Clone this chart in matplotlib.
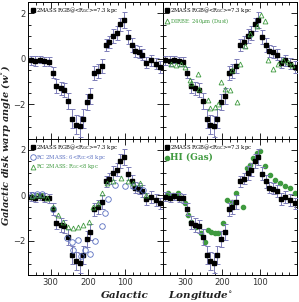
import numpy as np
import matplotlib
matplotlib.use("Agg")
from matplotlib import pyplot as plt
from matplotlib.ticker import MultipleLocator, FixedLocator
from matplotlib.lines import Line2D

# 2MASS RGB warp (black squares), same in every panel
rgb_l = [352, 341, 329, 317, 305, 294, 284, 273, 263, 252, 242, 232, 222, 213, 203, 193, 183,
         173, 163, 152, 142, 132, 122, 113, 103, 93, 83, 74, 63, 54, 43, 31, 18, 6]
rgb_w = [-0.06, -0.09, -0.03, -0.1, -0.13, -0.6, -1.19, -1.29, -1.36, -1.84, -2.62, -2.88, -2.96,
         -2.62, -1.91, -1.61, -0.61, -0.52, -0.3, 0.62, 0.74, 1.0, 1.14, 1.52, 1.71, 0.96, 0.62,
         0.35, 0.3, 0.19, -0.16, -0.06, -0.2, -0.35]
rgb_err = [0.2, 0.2, 0.15, 0.2, 0.2, 0.25, 0.3, 0.3, 0.3, 0.35, 0.4, 0.4, 0.45, 0.4, 0.35, 0.35,
           0.3, 0.3, 0.3, 0.25, 0.25, 0.3, 0.3, 0.3, 0.35, 0.3, 0.3, 0.25, 0.25, 0.25, 0.25,
           0.25, 0.25, 0.25]

# DIRBE 240um dust (open green triangles)
dust_l = [337, 323, 310, 301, 287, 283, 265, 261, 238, 234, 220, 211, 202, 193, 180, 175, 160,
          153, 140, 126, 108, 97, 86, 77, 64, 50, 37, 24, 12]
dust_w = [-0.2, -0.25, -0.2, -0.35, -0.93, -1.07, -0.64, -1.32, -1.8, -2.16, -2.09, -2.0, -1.0,
          -1.32, -1.36, -0.49, -1.87, -0.2, 0.59, 1.1, 1.46, 1.93, 1.68, -0.06, -0.42, -0.2,
          -0.06, -0.15, -0.25]

# RC 2MASS 6<Rgc<8 kpc (open blue circles)
rc68_l = [350, 337, 323, 292, 257, 243, 239, 226, 218, 207, 194, 181, 163, 154, 146, 128, 101,
          79, 66, 52]
rc68_w = [0.0, 0.05, 0.06, -0.6, -1.85, -2.04, -2.41, -1.97, -2.68, -2.41, -2.56, -2.0, -1.35,
          -0.75, -0.16, 0.48, 0.43, 0.4, 0.33, 0.25]

# RC 2MASS Rgc<8 kpc (open green triangles)
rc8_l = [350, 337, 323, 310, 292, 279, 266, 252, 239, 226, 212, 198, 185, 172, 163, 149, 132,
         110, 92, 79, 61, 43]
rc8_w = [-0.02, 0.03, 0.03, -0.1, -0.5, -0.86, -1.16, -1.4, -1.45, -1.4, -1.3, -1.16, -0.49,
         -0.34, 0.1, 0.55, 0.62, 0.77, 0.62, 0.55, 0.55, 0.0]

# HI gas (filled green circles)
hi_l = [346, 332, 319, 310, 301, 292, 283, 270, 256, 247, 238, 229, 220, 211, 198, 187, 175,
        162, 144, 135, 126, 117, 108, 99, 86, 72, 59, 46, 32, 19, 5]
hi_w = [0.1, 0.0, 0.1, -0.12, -0.34, -0.86, -1.16, -1.38, -1.67, -2.04, -1.52, -1.6, -1.67,
        -1.67, -1.23, -0.19, -0.3, 0.13, -0.49, 1.2, 1.36, 1.66, 1.88, 1.96, 1.29, 0.92, 0.7,
        0.55, 0.4, 0.33, 0.1]

green = "#3f9a3f"
blue = "#5a6fc0"
ebar = "#7d7db8"
rgb_label = r"2MASS RGB@<R$_{\rm GC}$>=7.3 kpc"

fig, axes = plt.subplots(2, 2, figsize=(2.99, 3.02), dpi=100, sharex=True, sharey=True)
fig.subplots_adjust(left=0.094, right=0.993, top=0.993, bottom=0.089, wspace=0, hspace=0)

for ax in axes.flat:
    ax.errorbar(rgb_l, rgb_w, yerr=rgb_err, fmt="s", ms=3.5, mfc="black", mec="black",
                ecolor=ebar, elinewidth=0.7, capsize=1.8, capthick=0.7, zorder=3)
    ax.set_xlim(360, 0)
    ax.set_ylim(-3.5, 2.5)
    ax.xaxis.set_major_locator(FixedLocator([300, 200, 100]))
    ax.xaxis.set_minor_locator(MultipleLocator(20))
    ax.yaxis.set_major_locator(MultipleLocator(2))
    ax.yaxis.set_minor_locator(MultipleLocator(0.5))
    ax.tick_params(which="both", direction="in", top=True, right=True, width=0.6,
                   labelsize=6, labelcolor="#333333", pad=2)
    ax.tick_params(which="major", length=4)
    ax.tick_params(which="minor", length=2.2)
    for s in ax.spines.values():
        s.set_linewidth(0.7)

sq = Line2D([], [], ls="none", marker="s", ms=3, mfc="black", mec="black")
handles = {(0, 0): [sq], (0, 1): [sq], (1, 0): [sq], (1, 1): [sq]}
labels = {(0, 0): [rgb_label], (0, 1): [rgb_label], (1, 0): [rgb_label], (1, 1): [rgb_label]}
colors = {(0, 0): ["black"], (0, 1): ["black", green], (1, 0): ["black", blue, green],
          (1, 1): ["black", green]}

ax = axes[0, 1]
h, = ax.plot(dust_l, dust_w, "^", ms=3.5, mfc="none", mec=green, mew=0.6, zorder=4)
handles[(0, 1)].append(h)
labels[(0, 1)].append(r"DIRBE: 240$\mu$m (Dust)")

ax = axes[1, 0]
h, = ax.plot(rc68_l, rc68_w, "o", ms=4, mfc="none", mec=blue, mew=0.6, zorder=4)
handles[(1, 0)].append(h)
labels[(1, 0)].append(r"RC 2MASS: 6<R$_{\rm GC}$<8 kpc")
h, = ax.plot(rc8_l, rc8_w, "^", ms=3.5, mfc="none", mec=green, mew=0.6, zorder=4)
handles[(1, 0)].append(h)
labels[(1, 0)].append(r"RC 2MASS: R$_{\rm GC}$<8 kpc")

ax = axes[1, 1]
h, = ax.plot(hi_l, hi_w, "o", ms=3, mfc=green, mec=green, zorder=2)
handles[(1, 1)].append(h)
labels[(1, 1)].append("HI (Gas)")

for (i, j), cols in colors.items():
    ax = axes[i, j]
    leg = ax.legend(handles[(i, j)], labels[(i, j)], loc="upper left", frameon=False,
                    handlelength=0.6, handletextpad=0.3, borderaxespad=0.2,
                    labelspacing=0.15, prop={"family": "DejaVu Serif", "size": 3.8})
    for t, c in zip(leg.get_texts(), cols):
        t.set_color(c)
    if (i, j) == (1, 1):
        leg.get_texts()[1].set_fontsize(6.5)
        leg.get_texts()[1].set_fontweight("bold")

fig.text(0.02, 0.52, r"Galactic disk warp angle (w$^{\circ}$)", rotation=90,
         ha="center", va="center", fontsize=7, family="DejaVu Serif",
         style="italic", weight="bold", color="#222222")
fig.text(0.418, 0.02, "Galactic", ha="center", va="center",
         fontsize=7.5, family="DejaVu Serif", style="italic", weight="bold", color="#222222")
fig.text(0.672, 0.02, r"Longitude$^{\circ}$", ha="center", va="center",
         fontsize=7.5, family="DejaVu Serif", style="italic", weight="bold", color="#222222")

plt.savefig("out.png", dpi=100)
